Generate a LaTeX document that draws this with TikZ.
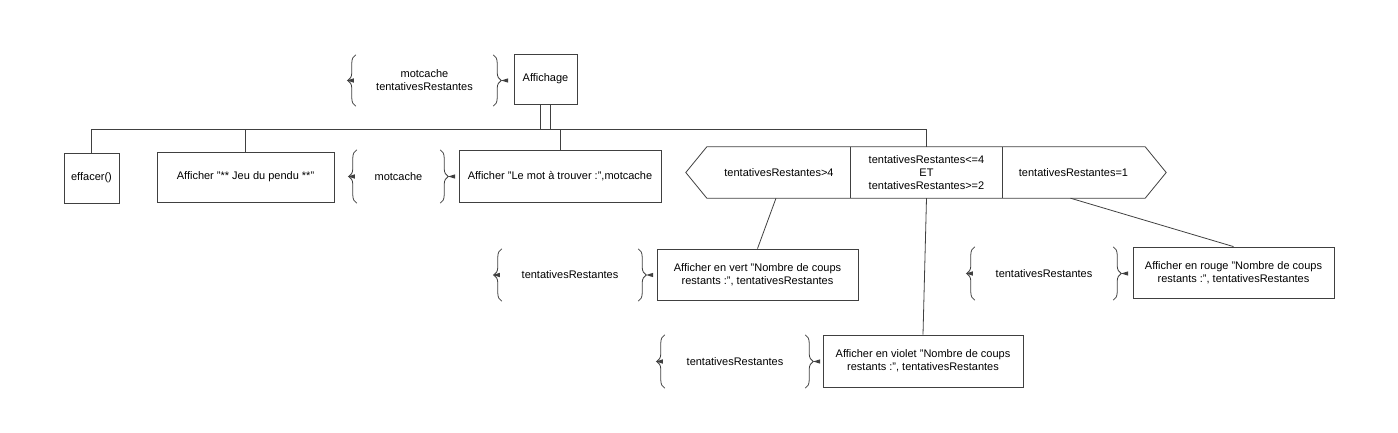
\documentclass[tikz,border=0pt]{standalone}
\usepackage{fontspec}
\setmainfont{Liberation Sans}
\usepackage{tikz}
\usetikzlibrary{decorations.pathreplacing}

\tikzset{
  trait/.style={draw=black!75, line width=0.8pt},
  bloc/.style={trait, align=center, inner sep=2pt, font=\fontsize{11}{13}\selectfont},
  cond/.style={align=center, inner sep=0pt, minimum height=51pt, font=\fontsize{11}{13}\selectfont},
  donnee/.style={align=center, inner sep=0pt, font=\fontsize{11}{13}\selectfont},
  accolade/.style={trait, decorate, decoration={brace, amplitude=8pt}}
}

% braces round an input data node
\newcommand{\entrees}[1]{%
  \draw[accolade] (#1.south west) -- (#1.north west);
  \draw[accolade] (#1.north east) -- (#1.south east);
  \fill[black!75] ([xshift=-9pt]#1.west) -- ++(7pt,2.2pt) -- ++(0,-4.4pt) -- cycle;
  \fill[black!75] ([xshift=8pt]#1.east) -- ++(7pt,2.2pt) -- ++(0,-4.4pt) -- cycle;
}

\begin{document}
\begin{tikzpicture}[x=1pt, y=1pt]
        \useasboundingbox (0,0) rectangle (1398,-433);

        % Main block
        \node[bloc, minimum width=63pt, minimum height=50pt] (affichage) at (545.5,-79) {Affichage};
        \node[donnee, minimum width=137pt, minimum height=51pt] (d0) at (424.5,-80.5) {motcache\\tentativesRestantes};
        \entrees{d0}

        % Sequence
        \coordinate (barre) at ([yshift=-25pt]affichage.south);
        \node[bloc, minimum width=55pt, minimum height=50pt] (effacer) at (91.5,-178) {effacer()};
        \node[bloc, minimum width=177pt, minimum height=50pt] (titre) at (245.5,-177) {Afficher "** Jeu du pendu **"};
        \node[donnee, minimum width=83pt, minimum height=53pt] (d1) at (398.5,-176.5) {motcache};
        \entrees{d1}
        \node[bloc, minimum width=202pt, minimum height=52pt] (motatrouver) at (560,-176) {Afficher "Le mot à trouver :",motcache};

        % Selection
        \node[cond, minimum width=144pt] (c1) at (779,-172.5) {tentativesRestantes>4};
        \node[cond, minimum width=151pt] (c2) at (926.5,-172.5) {tentativesRestantes<=4\\ET\\tentativesRestantes>=2};
        \node[cond, minimum width=143pt] (c3) at (1073.5,-172.5) {tentativesRestantes=1};
        \draw[trait] (c1.north west) -- (c3.north east) -- ([xshift=21pt]c3.east) -- (c3.south east)
                     -- (c1.south west) -- ([xshift=-21pt]c1.west) -- cycle;
        \draw[trait] (c2.north west) -- (c2.south west);
        \draw[trait] (c2.north east) -- (c2.south east);

        % Cases
        \node[donnee, minimum width=136pt, minimum height=52pt] (d2) at (570,-275) {tentativesRestantes};
        \entrees{d2}
        \node[bloc, minimum width=201pt, minimum height=51pt] (vert) at (757.5,-274.5) {Afficher en vert "Nombre de coups\\restants :", tentativesRestantes};
        \node[donnee, minimum width=140pt, minimum height=53pt] (d3) at (735,-361.5) {tentativesRestantes};
        \entrees{d3}
        \node[bloc, minimum width=200pt, minimum height=52pt] (violet) at (923,-361) {Afficher en violet "Nombre de coups\\restants :", tentativesRestantes};
        \node[donnee, minimum width=138pt, minimum height=53pt] (d4) at (1044,-273.5) {tentativesRestantes};
        \entrees{d4}
        \node[bloc, minimum width=201pt, minimum height=51pt] (rouge) at (1233.5,-272.5) {Afficher en rouge "Nombre de coups\\restants :", tentativesRestantes};

        % Links
        \draw[trait] ([xshift=-5pt]affichage.south) rectangle ([xshift=5pt]affichage.south |- barre);
        \draw[trait] (effacer.north) |- (c2.north |- barre) -- (c2.north);
        \draw[trait] (titre.north) -- (titre.north |- barre);
        \draw[trait] (motatrouver.north) -- (motatrouver.north |- barre);
        \draw[trait] ([xshift=-3pt]c1.south) -- (vert.north);
        \draw[trait] (c2.south) -- (violet.north);
        \draw[trait] ([xshift=-3pt]c3.south) -- (rouge.north);
    \end{tikzpicture}
\end{document}
